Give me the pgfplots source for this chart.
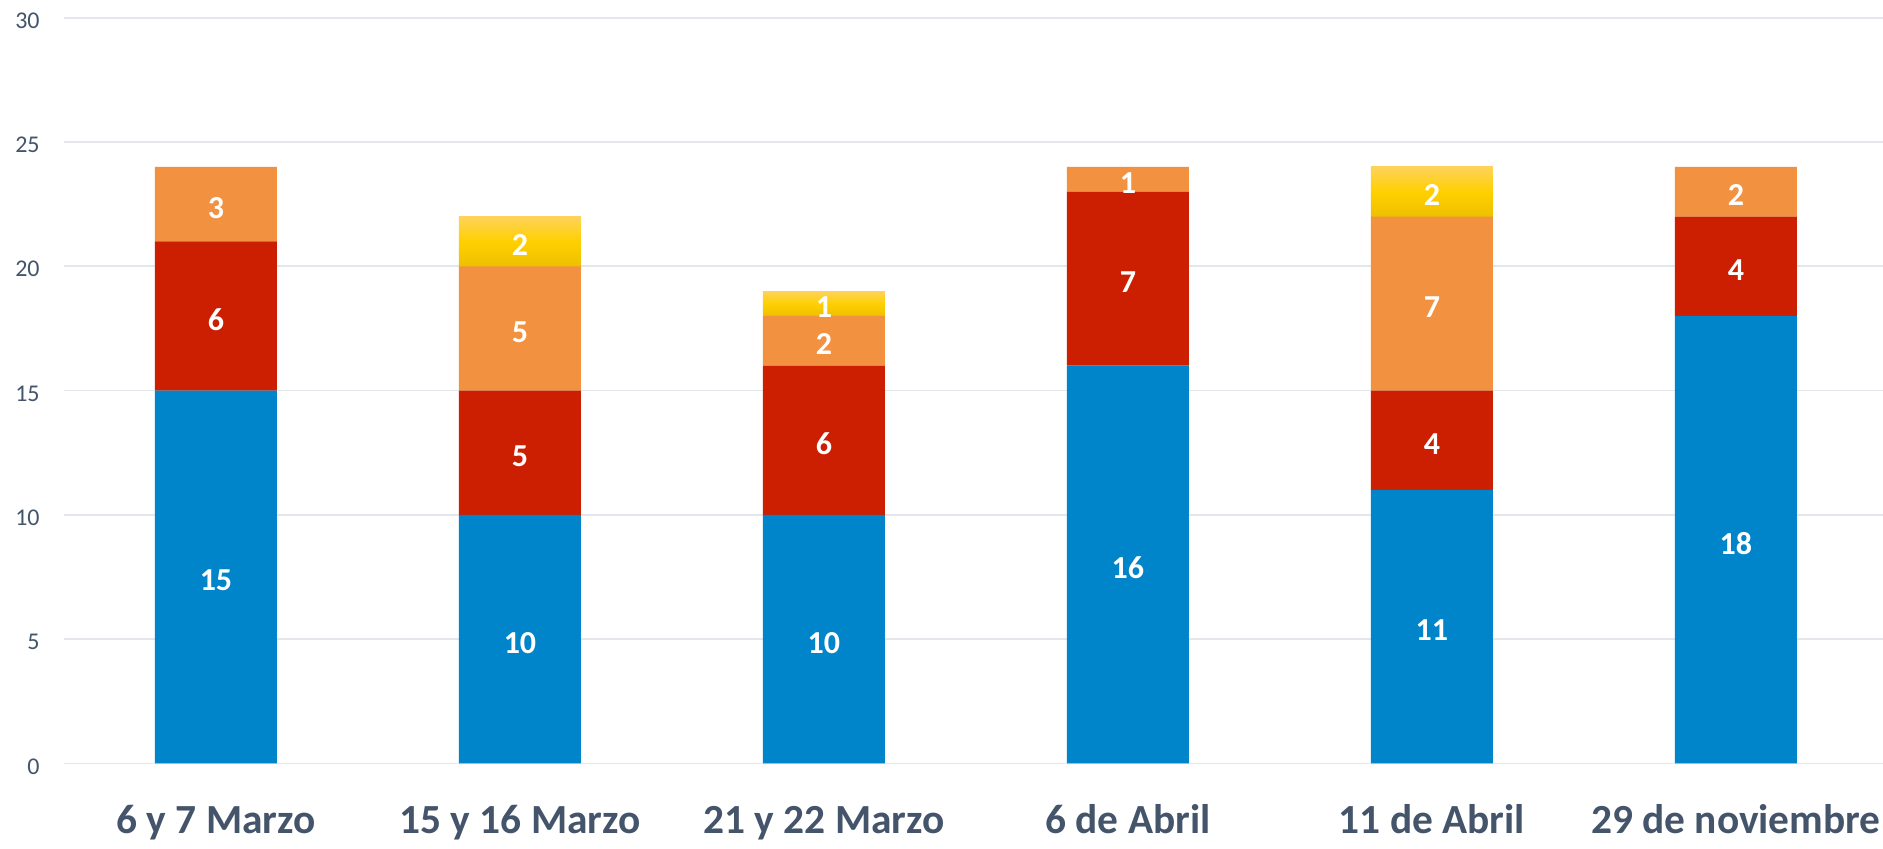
\documentclass[border=0pt]{standalone}
\usepackage{pgfplots}
\pgfplotsset{compat=1.18}
\usepackage{pgfplotstable}
\usepackage{fontspec}
\setmainfont{Carlito}
\definecolor{cblue}{HTML}{0084CA}
\definecolor{cred}{HTML}{CC1E00}
\definecolor{corange}{HTML}{F29241}
\definecolor{cyel}{HTML}{FFD000}
\definecolor{cyeltop}{HTML}{FFD25A}
\definecolor{cyelbot}{HTML}{EDC000}
\definecolor{slate}{HTML}{44546A}
\definecolor{gridc}{HTML}{E3E7EC}
\pgfplotstableread{
x b r o y
0 15 6 3 0
1 10 5 5 2
2 10 6 2 1
3 16 7 1 0
4 11 4 7 2
5 18 4 2 0
}\data
\pgfplotsset{
  base/.style={at={(32pt,42.3pt)}, anchor=south west,
    scale only axis, width=909.5pt, height=372.85pt,
    ybar stacked, bar width=61pt,
    xmin=-0.5, xmax=5.484, ymin=0, ymax=30},
  yel/.style={draw=none, top color=cyeltop, bottom color=cyelbot, middle color=cyel},
  inv/.style={draw=none, fill=none},
}
\newcommand{\yellowbar}[1]{%
\begin{axis}[base, hide axis, restrict x to domain=#1:#1]
\addplot[inv] table[x=x, y=b] {\data};
\addplot[inv] table[x=x, y=r] {\data};
\addplot[inv] table[x=x, y=o] {\data};
\addplot[yel] table[x=x, y=y] {\data};
\end{axis}}
\begin{document}
\begin{tikzpicture}
\path[use as bounding box] (0,0) rectangle (941.5pt,424pt);
% grid, ticks and category names
\begin{axis}[base,
  ytick={0,5,...,30},
  xtick={0,...,5},
  xticklabels={6 y 7 Marzo,15 y 16 Marzo,21 y 22 Marzo,6 de Abril,11 de Abril,29 de noviembre},
  xticklabel style={font=\bfseries\fontsize{20.7}{24}\selectfont, text=slate, anchor=base, yshift=-34.8pt},
  yticklabel style={font=\fontsize{12}{14}\selectfont, text=slate, anchor=east, inner sep=0pt, xshift=-12pt, yshift=-1.5pt},
  /pgf/number format/assume math mode=true,
  axis line style={draw=none},
  major tick length=0pt,
  ymajorgrids, major grid style={draw=gridc, line width=0.9pt},
]
\addplot[inv] table[x=x, y=b] {\data};
\end{axis}
% yellow bars, one per category, each with its own gradient
\yellowbar{1}
\yellowbar{2}
\yellowbar{4}
% stacked bars and value labels (centred in each segment)
\begin{axis}[base, hide axis,
  /pgf/number format/assume math mode=true,
  point meta=explicit,
  nodes near coords={\pgfmathfloatifflags{\pgfplotspointmeta}{0}{}{\pgfmathprintnumber{\pgfplotspointmeta}}},
  every node near coord/.append style={font=\bfseries\fontsize{16}{19}\selectfont, text=white, anchor=center, yshift=-1.75pt},
]
\addplot[draw=none, fill=cblue] table[x=x, y=b, meta=b] {\data};
\addplot[draw=none, fill=cred] table[x=x, y=r, meta=r] {\data};
\addplot[draw=none, fill=corange] table[x=x, y=o, meta=o] {\data};
\addplot[inv] table[x=x, y=y, meta=y] {\data};
\end{axis}
\end{tikzpicture}
\end{document}
